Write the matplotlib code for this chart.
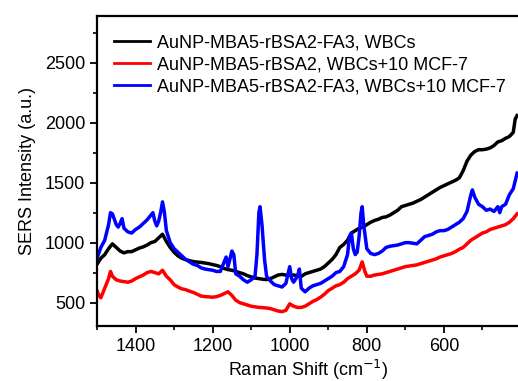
import matplotlib
matplotlib.use("Agg")
import matplotlib.pyplot as plt
from matplotlib.ticker import MultipleLocator

plt.rcParams['font.family'] = ['Liberation Sans', 'DejaVu Sans']

# ---- data ----
black_x = [1500, 1490, 1480, 1470, 1460, 1450, 1440, 1430, 1420, 1410, 1400, 1390, 1380, 1370,
           1360, 1350, 1340, 1330, 1320, 1310, 1300, 1290, 1280, 1270, 1260, 1250, 1240, 1230,
           1220, 1210, 1200, 1190, 1180, 1170, 1160, 1150, 1140, 1130, 1120, 1110, 1100, 1090,
           1080, 1070, 1060, 1050, 1040, 1030, 1020, 1010, 1000, 990, 980, 970, 960, 950, 940,
           930, 920, 910, 900, 890, 880, 870, 860, 850, 840, 830, 820, 810, 800, 790, 780, 770,
           760, 750, 740, 730, 720, 710, 700, 690, 680, 670, 660, 650, 640, 630, 620, 610, 600,
           590, 580, 570, 560, 550, 540, 530, 520, 510, 500, 490, 480, 470, 460, 450, 440, 430,
           420, 415, 410]
black_y = [820, 870, 900, 950, 990, 960, 930, 915, 925, 925, 940, 955, 965, 980,
           1000, 1010, 1040, 1070, 1010, 960, 920, 890, 870, 858, 850, 842, 838, 835,
           830, 825, 817, 810, 800, 785, 775, 770, 760, 750, 740, 725, 715, 705,
           700, 695, 692, 700, 715, 730, 735, 730, 728, 730, 725, 718, 740, 750, 760,
           770, 780, 800, 830, 860, 900, 960, 985, 1020, 1080, 1100, 1120, 1130, 1150, 1170, 1185, 1195,
           1210, 1215, 1230, 1250, 1270, 1300, 1310, 1320, 1330, 1345, 1360, 1380, 1400, 1420, 1440, 1460, 1475,
           1490, 1505, 1520, 1540, 1600, 1680, 1730, 1760, 1775, 1775, 1780, 1790, 1810, 1840, 1850, 1870, 1885,
           1920, 2030, 2060]

red_x = [1500, 1495, 1490, 1480, 1470, 1465, 1460, 1450, 1440, 1430, 1420, 1410, 1400, 1390,
         1380, 1370, 1360, 1350, 1340, 1330, 1320, 1310, 1300, 1290, 1280, 1270, 1260, 1250,
         1240, 1230, 1220, 1210, 1200, 1190, 1180, 1170, 1160, 1150, 1140, 1130, 1120, 1110,
         1100, 1090, 1080, 1070, 1060, 1050, 1040, 1030, 1020, 1010, 1000, 990, 980, 970, 960,
         950, 940, 930, 920, 910, 900, 890, 880, 870, 860, 850, 840, 830, 820, 812, 805, 800,
         790, 780, 770, 760, 750, 740, 730, 720, 710, 700, 690, 680, 670, 660, 650, 640, 630,
         620, 610, 600, 590, 580, 570, 560, 550, 540, 530, 520, 510, 500, 490, 480, 470, 460,
         450, 440, 430, 420, 410]
red_y = [600, 560, 540, 620, 700, 760, 720, 690, 680, 675, 670, 680, 700, 715,
         730, 750, 760, 750, 740, 770, 720, 690, 650, 630, 615, 608, 595, 585,
         570, 555, 550, 548, 545, 550, 560, 575, 590, 560, 520, 500, 490, 480,
         470, 465, 460, 458, 455, 450, 440, 430, 425, 435, 490, 470, 460, 460, 470,
         490, 510, 525, 545, 570, 600, 620, 640, 650, 670, 700, 720, 740, 770, 840, 760, 720,
         720, 730, 735, 740, 750, 760, 770, 780, 790, 800, 805, 810, 815, 825, 835, 845, 855,
         865, 880, 890, 900, 910, 925, 945, 960, 990, 1020, 1040, 1060, 1080, 1090, 1110, 1120, 1130,
         1140, 1150, 1170, 1200, 1240]

blue_x = [1500, 1490, 1480, 1470, 1465, 1460, 1450, 1445, 1440, 1435, 1430, 1420, 1410, 1400,
          1390, 1380, 1370, 1360, 1355, 1350, 1345, 1340, 1335, 1330, 1325, 1320, 1310, 1300,
          1290, 1280, 1270, 1260, 1250, 1240, 1230, 1220, 1210, 1200, 1190, 1180, 1170, 1165,
          1160, 1150, 1145, 1140, 1130, 1120, 1110, 1100, 1090, 1085, 1080, 1077, 1072, 1065,
          1060, 1050, 1040, 1030, 1020, 1010, 1000, 995, 990, 980, 975, 970, 960, 950, 940, 930,
          920, 910, 900, 890, 880, 870, 860, 850, 845, 840, 835, 830, 825, 820, 815, 812, 808,
          800, 790, 780, 770, 760, 750, 740, 730, 720, 710, 700, 690, 680, 670, 660, 650, 640,
          630, 620, 610, 600, 590, 580, 570, 560, 550, 540, 530, 526, 520, 510, 500, 490, 480,
          470, 460, 455, 450, 440, 430, 420, 410]
blue_y = [870, 960, 1020, 1150, 1250, 1240, 1150, 1130, 1160, 1200, 1120, 1090, 1080, 1110,
          1130, 1160, 1190, 1230, 1250, 1180, 1140, 1180, 1250, 1340, 1250, 1100, 1000, 950,
          920, 890, 860, 840, 820, 810, 790, 780, 775, 770, 760, 760, 840, 880,
          800, 930, 900, 740, 720, 690, 670, 690, 720, 900, 1250, 1300, 1150, 850,
          720, 680, 650, 640, 630, 660, 800, 700, 670, 720, 780, 620, 590, 620, 640, 650,
          660, 680, 700, 720, 750, 760, 800, 900, 1050, 1080, 950, 900, 920, 1050, 1250, 1300, 1150,
          950, 910, 900, 910, 930, 960, 970, 975, 980, 990, 1000, 1000, 995, 990, 1020, 1050, 1060,
          1070, 1090, 1100, 1100, 1110, 1130, 1150, 1170, 1200, 1260, 1400, 1440, 1380, 1320, 1300, 1270, 1280,
          1260, 1300, 1250, 1300, 1320, 1400, 1450, 1580]

labels = ["AuNP-MBA5-rBSA2-FA3, WBCs",
          "AuNP-MBA5-rBSA2, WBCs+10 MCF-7",
          "AuNP-MBA5-rBSA2-FA3, WBCs+10 MCF-7"]
colors = ["black", "#ff0000", "#0000ff"]

fig = plt.figure(figsize=(5.18, 3.81), dpi=100)
ax = fig.add_axes([97 / 518, 1 - 326 / 381, 1 - 97 / 518 + 0.002, (326 - 16) / 381])

ax.plot(black_x, black_y, color=colors[0], lw=2.5, label=labels[0])
ax.plot(red_x, red_y, color=colors[1], lw=2.5, label=labels[1])
ax.plot(blue_x, blue_y, color=colors[2], lw=2.5, label=labels[2])

ax.set_xlim(1500, 405)
ax.set_ylim(305, 2890)
ax.xaxis.set_major_locator(MultipleLocator(200))
ax.xaxis.set_minor_locator(MultipleLocator(100))
ax.yaxis.set_major_locator(MultipleLocator(500))
ax.yaxis.set_minor_locator(MultipleLocator(250))
ax.tick_params(which='major', direction='out', length=5, width=1.3, labelsize=13)
ax.tick_params(which='minor', direction='out', length=3, width=1.2)
ax.tick_params(top=False, right=False)
for s in ['left', 'bottom', 'top']:
    ax.spines[s].set_linewidth(1.6)
ax.spines['right'].set_visible(False)

ax.set_xlabel("Raman Shift (cm$^{-1}$)", fontsize=13, labelpad=2)
ax.set_ylabel("SERS Intensity (a.u.)", fontsize=13, labelpad=6)

leg = ax.legend(loc='upper left', bbox_to_anchor=(0.015, 0.975), frameon=False,
                fontsize=13, handlelength=2.0, handletextpad=0.35, labelspacing=0.28,
                borderaxespad=0.2)
for h in leg.legend_handles:
    h.set_linewidth(2.0)

fig.savefig("out.png", dpi=100)
